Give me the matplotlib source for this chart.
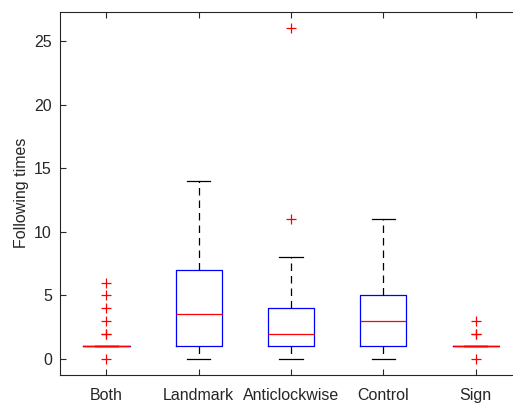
import matplotlib.pyplot as plt

plt.rcParams['font.family'] = ['Liberation Sans', 'DejaVu Sans']

groups = ['Both', 'Landmark', 'Anticlockwise', 'Control', 'Sign']
medians = [1, 3.5, 2, 3, 1]
q1 = [1, 1, 1, 1, 1]
q3 = [1, 7, 4, 5, 1]
whis_lo = [1, 0, 0, 0, 1]
whis_hi = [1, 14, 8, 11, 1]
outliers = [
    [0, 2, 2, 3, 4, 5, 6],
    [],
    [11, 26],
    [],
    [0, 2, 2, 3],
]

stats = []
for i, name in enumerate(groups):
    stats.append(dict(label=name, med=medians[i], q1=q1[i], q3=q3[i],
                      whislo=whis_lo[i], whishi=whis_hi[i], fliers=outliers[i]))

fig = plt.figure(figsize=(5.13, 4.03), dpi=100)
ax = fig.add_axes([0.1175, 0.0707, 0.8996, 0.8995])

axcol = '#262626'
ax.bxp(stats, positions=range(1, 6), widths=0.5, capwidths=0.25,
       boxprops=dict(color='blue', linewidth=0.9),
       medianprops=dict(color='red', linewidth=0.9),
       whiskerprops=dict(color='black', linestyle=(0, (6, 4)), linewidth=0.9),
       capprops=dict(color='black', linewidth=0.9),
       flierprops=dict(marker='+', markeredgecolor='red', markersize=7,
                       markeredgewidth=0.9, linestyle='none'))

ax.set_xlim(0.5, 5.5)
ax.set_ylim(-1.22, 27.28)
ax.set_yticks([0, 5, 10, 15, 20, 25])
ax.set_xticks(range(1, 6))
ax.set_xticklabels(groups)
ax.set_ylabel('Following times', fontsize=11.5, color=axcol, labelpad=4)

ax.tick_params(direction='in', top=True, right=False, length=4,
               colors=axcol, labelsize=11.5, width=0.8)
ax.tick_params(axis='y', pad=6)
ax.tick_params(axis='x', pad=10)
ax.spines['right'].set_visible(False)
for s in ax.spines.values():
    s.set_color(axcol)
    s.set_linewidth(0.8)

fig.savefig('out.png', dpi=100)
